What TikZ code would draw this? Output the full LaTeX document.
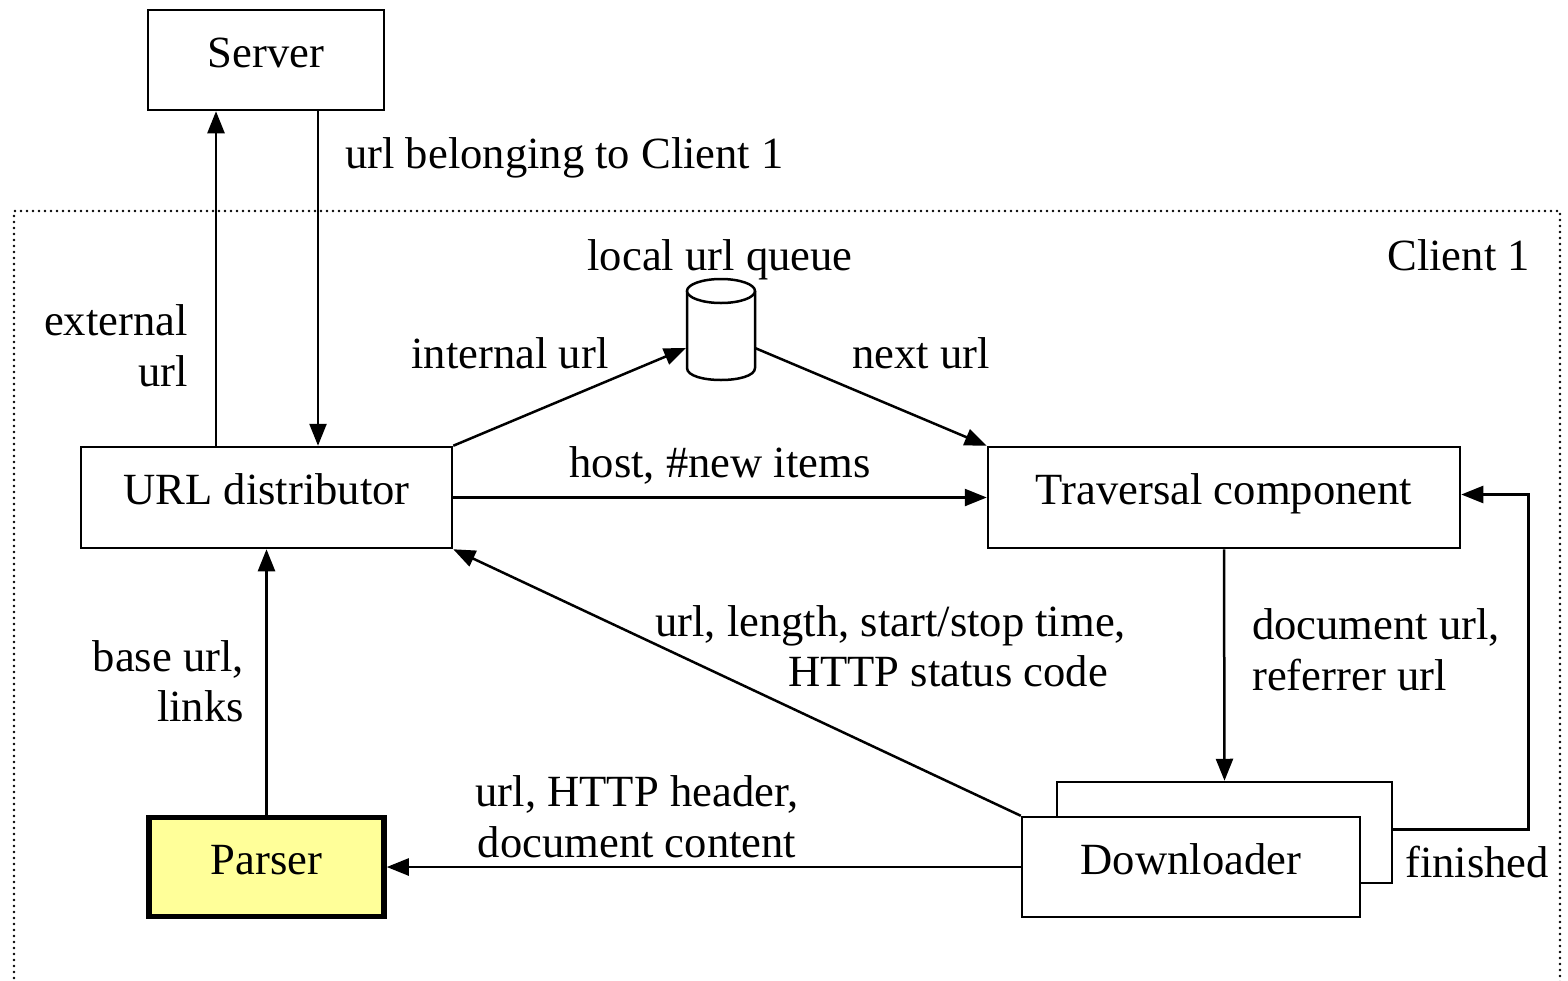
\documentclass[tikz,border=0pt]{standalone}
\usepackage{fontspec}
\setmainfont{Liberation Serif}
\usetikzlibrary{arrows.meta,calc}
\definecolor{parseryellow}{HTML}{FFFF99}
\begin{document}
\begin{tikzpicture}[x=1pt,y=-1pt,
  every node/.style={font=\fontsize{44.6}{51}\selectfont, inner sep=0pt},
  box/.style={draw, line width=2.5pt, fill=white, text height=30pt, text depth=16pt},
  arr/.style={line width=2.5pt, -{Triangle[length=22pt,width=17pt]}},
  plain/.style={line width=2.5pt}]
\useasboundingbox (0,0) rectangle (1568,980);

% client border
\draw[line width=2.6pt, dash pattern=on 0pt off 6pt, line cap=round] (14,990) -- (14,211) -- (1560,211) -- (1560,990);

% boxes
\node[box, minimum width=236pt, minimum height=100pt] (server) at (266,60) {Server};
\node[box, minimum width=371pt, minimum height=101pt] (url) at (266.5,497.5) {URL distributor};
\node[box, minimum width=472pt, minimum height=101pt] (trav) at (1224,497.5) {Traversal component};
\node[box, minimum width=335pt, minimum height=101pt] (dlback) at (1224.5,832.5) {};
\node[box, minimum width=338pt, minimum height=100pt] (dl) at (1191,867) {Downloader};
\node[box, line width=5.5pt, fill=parseryellow, minimum width=235pt, minimum height=99pt] (parser) at (266.5,867) {Parser};

% local url queue (cylinder)
\node[minimum width=68pt, minimum height=101pt] (queue) at (721,330) {};
\fill[white] (687,291) -- (687,368) .. controls (687,384) and (755,384) .. (755,368) -- (755,291) -- cycle;
\draw[plain] (687,291) -- (687,368) .. controls (687,384) and (755,384) .. (755,368) -- (755,291);
\draw[plain, fill=white] (721,291) ellipse [x radius=34, y radius=12];
\coordinate (qw) at (686,348);
\coordinate (qe) at (755,348);

% connectors
\draw[arr] ($(url.north)+(-50.5,0)$) -- ($(server.south)+(-50,0)$);
\draw[arr] ($(server.south)+(52,0)$) -- ($(url.north)+(51.5,0)$);
\draw[arr] (url.north east) -- (qw);
\draw[arr] (qe) -- (trav.north west);
\draw[arr] (url.east) -- (trav.west);
\draw[arr] (trav.south) -- (dlback.north);
\draw[arr] ($(dlback.east)+(0,-3)$) -- ++(135,0) |- ($(trav.east)+(0,-3)$);
\draw[arr] (dl.north west) -- (url.south east);
\draw[arr] (dl.west) -- (parser.east);
\draw[arr] (parser.north) -- (url.south);

% labels
\node[anchor=base west] (l1) at (345,168) {url belonging to Client 1};
\node[anchor=base east] (l2) at (1530,270) {Client 1};
\node[anchor=base] (l3) at (720,270) {local url queue};
\node[anchor=base east] (l4a) at (188,335) {external};
\node[anchor=base east] (l4b) at (188,386) {url};
\node[anchor=base] (l5) at (510,368) {internal url};
\node[anchor=base] (l6) at (921,368) {next url};
\node[anchor=base] (l7) at (720,477) {host, \#new items};
\node[anchor=base west] (l8a) at (655,636) {url, length, start/stop time,};
\node[anchor=base west] (l8b) at (788,686) {HTTP status code};
\node[anchor=base west] (l9a) at (1252,639) {document url,};
\node[anchor=base west] (l9b) at (1252,690) {referrer url};
\node[anchor=base east] (l10a) at (244,671) {base url,};
\node[anchor=base east] (l10b) at (244,721) {links};
\node[anchor=base] (l11a) at (637,806) {url, HTTP header,};
\node[anchor=base] (l11b) at (637,857) {document content};
\node[anchor=base west] (l12) at (1405,877) {finished};
\end{tikzpicture}
\end{document}
